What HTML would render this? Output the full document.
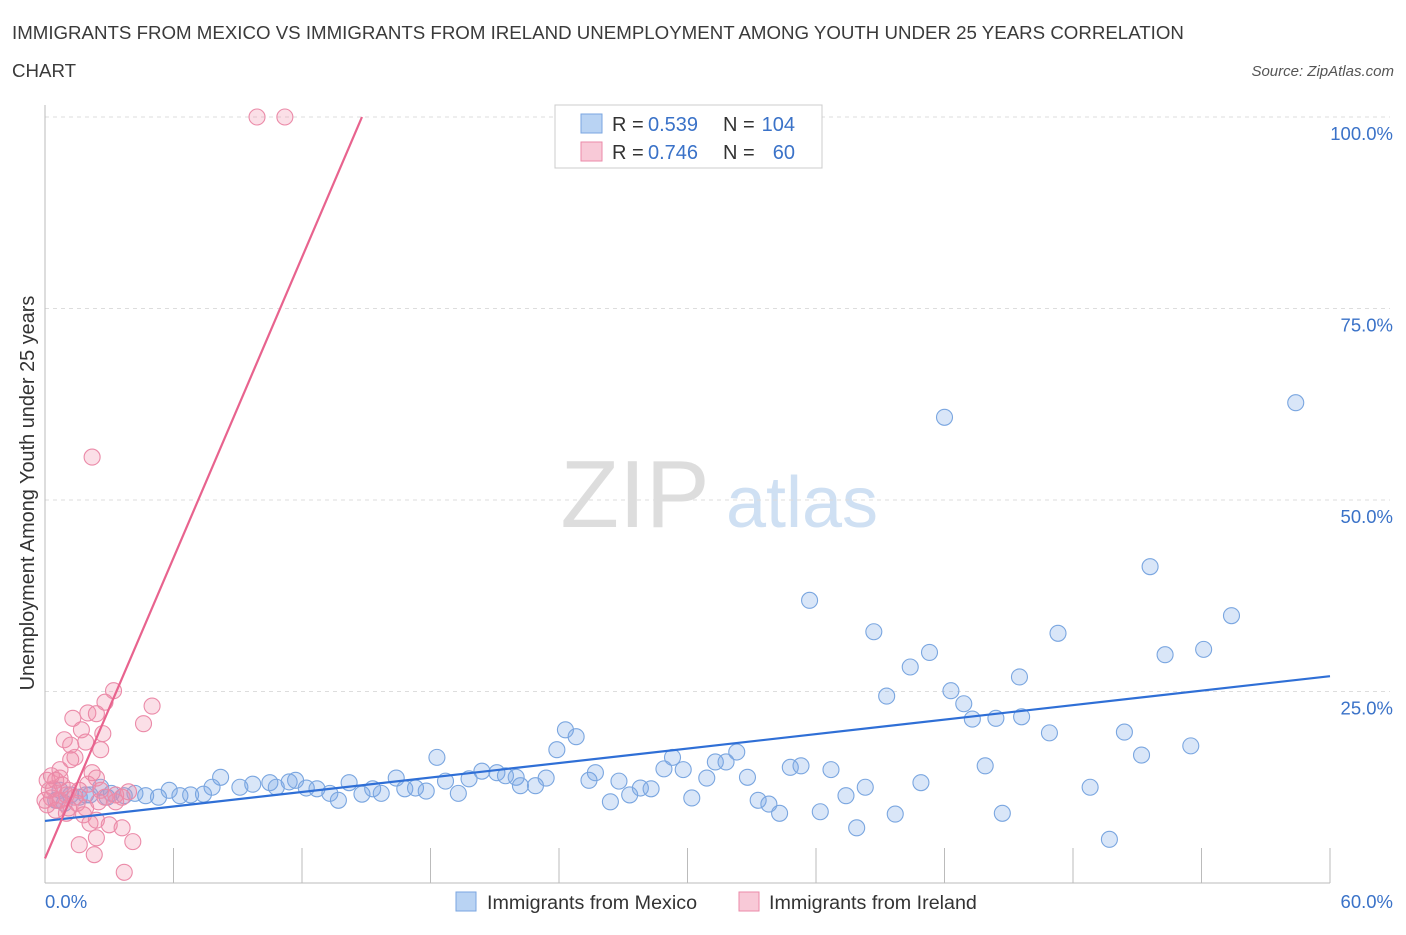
<!DOCTYPE html>
<html><head><meta charset="utf-8"><style>
body{margin:0;background:#fff;font-family:"Liberation Sans",sans-serif;}
svg text{font-family:"Liberation Sans",sans-serif;}
</style></head><body>
<svg id="c" width="1406" height="930" xmlns="http://www.w3.org/2000/svg">
<text x="12" y="39" font-size="18.7" fill="#3a3a3a">IMMIGRANTS FROM MEXICO VS IMMIGRANTS FROM IRELAND UNEMPLOYMENT AMONG YOUTH UNDER 25 YEARS CORRELATION</text>
<text x="12" y="77" font-size="18.7" fill="#3a3a3a">CHART</text>
<text x="1394" y="76" font-size="15" fill="#555" font-style="italic" text-anchor="end">Source: ZipAtlas.com</text>
<text x="635" y="527" font-size="96" fill="#ddd" font-family="Liberation Serif" text-anchor="middle">ZIP</text>
<text x="802" y="527" font-size="72" fill="#cfe0f3" text-anchor="middle">atlas</text>
<g id="grid"></g>
<g id="pts"></g>
<g id="trend"></g>
<text x="34" y="493" font-size="19.9" fill="#333" text-anchor="middle" transform="rotate(-90 34 493)">Unemployment Among Youth under 25 years</text>
<g>
<rect x="555" y="105" width="267" height="63" fill="#fff" stroke="#ccc"/>
<rect x="581" y="114" width="21" height="19" fill="#b9d3f3" stroke="#7aa6e0"/>
<text x="612" y="131" font-size="20" fill="#333">R =</text>
<text x="648" y="131" font-size="20" fill="#3a72c8">0.539</text>
<text x="723" y="131" font-size="20" fill="#333">N =</text>
<text x="795" y="131" font-size="20" fill="#3a72c8" text-anchor="end">104</text>
<rect x="581" y="142" width="21" height="19" fill="#f8c9d7" stroke="#eb8aa8"/>
<text x="612" y="159" font-size="20" fill="#333">R =</text>
<text x="648" y="159" font-size="20" fill="#3a72c8">0.746</text>
<text x="723" y="159" font-size="20" fill="#333">N =</text>
<text x="795" y="159" font-size="20" fill="#3a72c8" text-anchor="end">60</text>
</g>
<g>
<rect x="456" y="892" width="20" height="19" fill="#b9d3f3" stroke="#7aa6e0"/>
<text x="487" y="909" font-size="19.7" fill="#333">Immigrants from Mexico</text>
<rect x="739" y="892" width="20" height="19" fill="#f8c9d7" stroke="#eb8aa8"/>
<text x="769" y="909" font-size="19.7" fill="#333">Immigrants from Ireland</text>
</g>
</svg>
<script>
const xTicks=[0,60];
const yTicks=[25,50,75,100];
const mexX=[58.4,42.0,51.6,35.7,55.4,38.7,47.3,41.3,54.1,52.3,40.4,45.5,39.3,42.3,42.9,43.3,44.4,45.6,46.9,50.4,53.5,51.2,24.3,24.8,23.9,18.3,43.9,29.3,32.3,31.3,31.8,34.8,35.3,36.7,20.4,21.1,21.5,22.0,23.4,19.8,18.7,16.4,14.2,11.4,11.7,10.5,8.2,7.8,9.1,9.7,10.8,12.2,12.7,13.3,13.7,14.8,15.3,15.7,16.8,17.3,17.8,19.3,22.2,22.9,25.4,25.7,26.8,27.3,27.8,28.3,28.9,29.8,30.9,32.8,38.3,40.9,48.8,26.4,30.2,33.3,33.8,34.3,37.4,36.2,39.7,44.7,37.9,49.7,2.6,3.1,3.7,4.2,4.7,5.3,5.8,6.3,6.8,7.4,2.1,1.6,1.2,0.7,0.5,0.9,1.9,2.9];
const mexY=[62.7,60.8,41.3,36.9,34.9,32.8,32.6,30.1,30.5,29.8,28.2,26.9,24.4,25.1,23.4,21.4,21.5,21.7,19.6,19.7,17.9,16.7,20.0,19.1,17.4,16.4,15.3,16.4,17.1,15.8,15.8,15.1,15.3,14.8,14.6,14.4,14.0,13.8,13.7,13.6,13.3,13.7,13.1,13.2,13.4,13.1,13.8,12.5,12.5,12.9,12.5,12.4,12.3,11.7,10.8,11.6,12.3,11.7,12.3,12.4,12.0,11.7,12.7,12.7,13.4,14.4,13.3,11.5,12.4,12.3,14.9,14.8,13.7,13.8,12.5,13.1,12.5,10.6,11.1,10.8,10.3,9.1,11.4,9.3,9.0,9.1,7.2,5.7,12.5,11.7,11.4,11.7,11.4,11.2,12.1,11.4,11.5,11.6,11.5,11.2,11.5,12.1,10.8,10.4,11.5,11.2];
const ireX=[2.2,5.0,3.2,4.6,2.8,1.3,2.0,2.4,0.9,1.7,2.7,1.2,1.9,2.6,1.4,0.7,1.2,2.2,0.5,0.8,0.2,0.3,0.6,1.0,1.4,1.6,2.0,2.4,2.6,2.8,3.3,3.6,3.9,0.1,0.5,1.0,1.5,1.9,2.5,3.3,1.8,2.1,2.4,3.0,3.6,1.6,2.4,4.1,2.3,3.7,9.9,11.2,0.4,0.7,1.1,0.0,0.1,0.3,0.7,1.1];
const ireY=[55.6,23.1,25.1,20.8,23.6,21.5,22.2,22.1,18.7,20.0,19.5,18.0,18.4,17.4,16.4,14.8,16.1,14.4,13.4,12.8,12.1,11.1,10.8,11.5,11.2,12.1,12.9,13.7,12.1,11.2,11.5,11.2,11.9,10.2,9.5,9.1,10.4,9.8,10.6,10.6,8.9,7.8,8.2,7.6,7.2,5.0,5.9,5.4,3.7,1.4,100,100,12.3,10.8,9.8,10.8,13.4,14.0,13.7,12.1];
const mexTrend=[8.1,27.0];
const ireTrend=[3.2,100];
const X0=45,X1=1330,Y0=883,Y1=117;
const sx=v=>X0+(v-0)/60*(X1-X0);
const sy=v=>Y0-v/100*(Y0-Y1);
const NS="http://www.w3.org/2000/svg";
function mk(tag,attrs,parent){const e=document.createElementNS(NS,tag);for(const k in attrs)e.setAttribute(k,attrs[k]);parent.appendChild(e);return e;}
const grid=document.getElementById('grid');
yTicks.forEach(t=>{
 const l=mk('line',{x1:X0,x2:X1+60,y1:sy(t),y2:sy(t),stroke:'#ddd','stroke-dasharray':'4 4'},grid);
 
 
 const tx=mk('text',{x:1393,y:sy(t)+23,'font-size':18.5,fill:'#3a72c8','text-anchor':'end'},grid);
 tx.textContent=t.toFixed(1)+'%';
 
 
});
const ax=mk('line',{x1:X0,x2:X1,y1:Y0,y2:Y0,stroke:'#bbb'},grid);


const ay=mk('line',{x1:X0,x2:X0,y1:105,y2:Y0,stroke:'#bbb'},grid);


for(let i=0;i<=10;i++){
 const v=i*6;
 const t=mk('line',{x1:sx(v),x2:sx(v),y1:Y0-35,y2:Y0,stroke:'#bbb'},grid);
 
 
}
xTicks.forEach((t,i)=>{
 const tx=mk('text',{x:i?1393:45,y:908,'font-size':18.5,fill:'#3a72c8','text-anchor':i?'end':'start'},grid);
 tx.textContent=t.toFixed(1)+'%';
 
 
});
const pts=document.getElementById('pts');
mexX.forEach((x,i)=>{
 const c=mk('circle',{cx:sx(x),cy:sy(mexY[i]),r:8,fill:'rgba(120,165,230,0.28)',stroke:'#7aa6e0','stroke-width':1.1},pts);
 
 
});
ireX.forEach((x,i)=>{
 const c=mk('circle',{cx:sx(x),cy:sy(ireY[i]),r:8,fill:'rgba(240,140,170,0.28)',stroke:'#eb8aa8','stroke-width':1.1},pts);
 
 
});
const tr=document.getElementById('trend');
const t1=mk('line',{x1:sx(0),y1:sy(mexTrend[0]),x2:sx(60),y2:sy(mexTrend[1]),stroke:'#2f6fd6','stroke-width':2.2},tr);


const t2=mk('line',{x1:sx(0),y1:sy(ireTrend[0]),x2:sx(14.8),y2:sy(ireTrend[1]),stroke:'#e8638e','stroke-width':2.2},tr);


</script>
</body></html>
